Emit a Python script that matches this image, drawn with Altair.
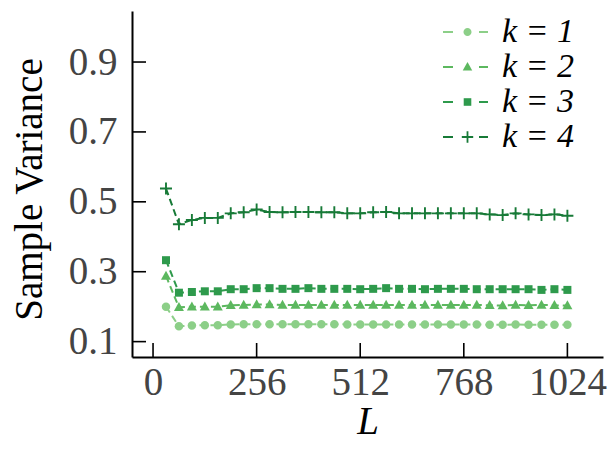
import altair as alt
import pandas as pd

L_values = [32, 64, 96, 128, 160, 192, 224, 256, 288, 320, 352, 384, 416, 448, 480, 512,
            544, 576, 608, 640, 672, 704, 736, 768, 800, 832, 864, 896, 928, 960, 992, 1024]

k1 = [0.200, 0.144, 0.146, 0.147, 0.147, 0.149, 0.150, 0.150, 0.150, 0.150, 0.150, 0.150,
      0.150, 0.150, 0.149, 0.149, 0.149, 0.149, 0.149, 0.149, 0.149, 0.149, 0.149, 0.149,
      0.149, 0.148, 0.148, 0.149, 0.148, 0.148, 0.148, 0.148]
k2 = [0.288, 0.198, 0.200, 0.200, 0.200, 0.204, 0.205, 0.206, 0.206, 0.205, 0.205, 0.205,
      0.205, 0.205, 0.205, 0.205, 0.205, 0.205, 0.205, 0.205, 0.205, 0.205, 0.205, 0.205,
      0.205, 0.204, 0.203, 0.205, 0.204, 0.205, 0.204, 0.203]
k3 = [0.333, 0.240, 0.242, 0.244, 0.244, 0.250, 0.250, 0.253, 0.253, 0.251, 0.251, 0.253,
      0.251, 0.251, 0.251, 0.250, 0.251, 0.253, 0.251, 0.251, 0.250, 0.251, 0.251, 0.251,
      0.250, 0.250, 0.250, 0.250, 0.250, 0.248, 0.250, 0.248]
k4 = [0.538, 0.436, 0.448, 0.454, 0.454, 0.467, 0.470, 0.478, 0.471, 0.470, 0.471, 0.471,
      0.470, 0.470, 0.467, 0.467, 0.470, 0.471, 0.467, 0.467, 0.467, 0.467, 0.467, 0.467,
      0.467, 0.464, 0.462, 0.467, 0.464, 0.462, 0.464, 0.460]

series_labels = ["k = 1", "k = 2", "k = 3", "k = 4"]
colors = ["#8ccf88", "#5cb85f", "#2e9a4c", "#177a37"]
# marker outlines in unit coordinates (scaled by the mark size)
circle_path = "M-0.85,0A0.85,0.85,0,1,1,0.85,0A0.85,0.85,0,1,1,-0.85,0Z"
triangle_path = "M0,-1.05L1,0.75L-1,0.75Z"
square_path = "M-0.8,-0.8L0.8,-0.8L0.8,0.8L-0.8,0.8Z"
plus_path = ("M-1.2,-0.19L-0.19,-0.19L-0.19,-1.2L0.19,-1.2L0.19,-0.19L1.2,-0.19L1.2,0.19"
             "L0.19,0.19L0.19,1.2L-0.19,1.2L-0.19,0.19L-1.2,0.19Z")
shapes = [circle_path, triangle_path, square_path, plus_path]
x_ticks = [0, 256, 512, 768, 1024]
y_ticks = [0.1, 0.3, 0.5, 0.7, 0.9]

rows = []
for lab, vals in zip(series_labels, [k1, k2, k3, k4]):
    for L, v in zip(L_values, vals):
        rows.append({"L": L, "v": v, "k": lab})
df = pd.DataFrame(rows)

W, H = 471, 346
FONT = "Liberation Serif"

x_scale = alt.Scale(domain=[-52, 1112], nice=False, zero=False)
y_scale = alt.Scale(domain=[0.056, 1.046], nice=False, zero=False)
color_scale = alt.Scale(domain=series_labels, range=colors)
shape_scale = alt.Scale(domain=series_labels, range=shapes)

x_axis = alt.Axis(values=x_ticks, title="L", ticks=False, tickSize=0, grid=False, format="d",
                  labelFont=FONT, labelFontSize=39, labelColor="#444444", labelPadding=6,
                  labelFlush=False, domainColor="black", domainWidth=2,
                  titleFont=FONT, titleFontSize=39, titleFontStyle="italic",
                  titleFontWeight="normal", titleColor="black", titlePadding=0)
y_axis = alt.Axis(values=y_ticks, title="Sample Variance", ticks=False, tickSize=0, grid=False,
                  format=".1f", labelFont=FONT, labelFontSize=39, labelColor="#444444",
                  labelPadding=15, labelFlush=False, domainColor="black", domainWidth=2,
                  titleFont=FONT, titleFontSize=39, titleFontWeight="normal",
                  titleColor="black", titlePadding=19, titleY=178)

base = alt.Chart(df)
color_enc = alt.Color("k:N", scale=color_scale, legend=None)

lines = base.mark_line(strokeDash=[7, 4], strokeWidth=2).encode(
    x=alt.X("L:Q", scale=x_scale, axis=x_axis),
    y=alt.Y("v:Q", scale=y_scale, axis=y_axis),
    color=color_enc,
)
points = base.mark_point(filled=True, opacity=1, size=100).encode(
    x=alt.X("L:Q", scale=x_scale),
    y=alt.Y("v:Q", scale=y_scale),
    color=color_enc,
    shape=alt.Shape("k:N", scale=shape_scale, legend=None),
)

ytick_df = pd.DataFrame({"v": y_ticks})
xtick_df = pd.DataFrame({"L": x_ticks})
yticks = alt.Chart(ytick_df).mark_rule(color="black", strokeWidth=1.6).encode(
    y=alt.Y("v:Q", scale=y_scale), x=alt.value(0), x2=alt.value(14))
xticks = alt.Chart(xtick_df).mark_rule(color="black", strokeWidth=1.6).encode(
    x=alt.X("L:Q", scale=x_scale), y=alt.value(H), y2=alt.value(H - 14))

main = alt.layer(lines, points, yticks, xticks)

leg_df = pd.DataFrame({"k": series_labels})
leg_y = alt.Y("k:N", scale=alt.Scale(type="point", domain=series_labels, range=[21, 126], padding=0),
              axis=None)
leg_base = alt.Chart(leg_df)
leg_dash1 = leg_base.mark_rule(strokeWidth=2).encode(
    y=leg_y, x=alt.value(311), x2=alt.value(321), color=color_enc)
leg_dash2 = leg_base.mark_rule(strokeWidth=2).encode(
    y=leg_y, x=alt.value(347), x2=alt.value(356), color=color_enc)
leg_pts = leg_base.mark_point(filled=True, opacity=1, size=90).encode(
    y=leg_y, x=alt.value(335.5), color=color_enc,
    shape=alt.Shape("k:N", scale=shape_scale, legend=None))
leg_text = leg_base.mark_text(align="left", baseline="middle", font=FONT, fontStyle="italic",
                              fontSize=34, color="black").encode(
    y=leg_y, x=alt.value(370), text="k:N")
legend = alt.layer(leg_dash1, leg_dash2, leg_pts, leg_text)

chart = alt.layer(main, legend).resolve_scale(y="independent").properties(
    width=W, height=H,
    padding={"left": 132, "top": 11, "right": 12, "bottom": 93},
    autosize=alt.AutoSizeParams(type="none"),
    background="white",
).configure_view(stroke=None)

chart.save("out.html", embed_options={"renderer": "svg", "actions": False})
